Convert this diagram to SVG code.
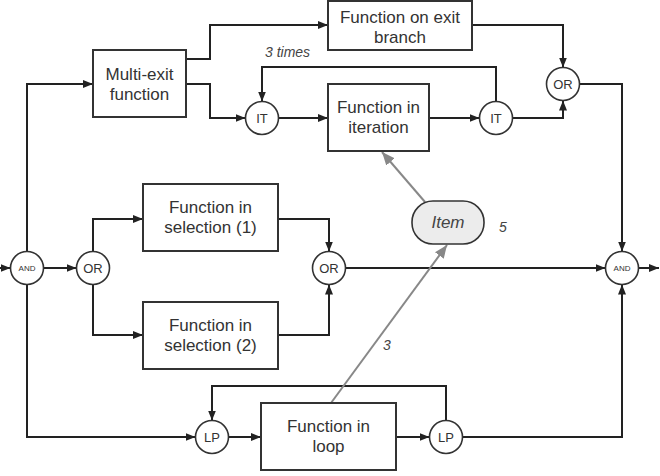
<svg xmlns="http://www.w3.org/2000/svg" width="660" height="476" viewBox="0 0 660 476">
<style>
.box{fill:#fff;stroke:#333;stroke-width:2}
.gate{fill:#fff;stroke:#333;stroke-width:1.6}
.t{font-family:"Liberation Sans",Arial,sans-serif;font-size:17px;fill:#333;text-anchor:middle}
.g{font-family:"Liberation Sans",Arial,sans-serif;font-size:13px;fill:#333;text-anchor:middle}
.s{font-family:"Liberation Sans",Arial,sans-serif;font-size:8px;fill:#333;text-anchor:middle}
.i{font-family:"Liberation Sans",Arial,sans-serif;font-style:italic;fill:#444}
.c{fill:none;stroke:#222;stroke-width:2}
.gc{fill:none;stroke:#888;stroke-width:2}
</style>
<defs>
<marker id="a" markerUnits="userSpaceOnUse" markerWidth="10" markerHeight="10" viewBox="0 0 10 10" refX="10" refY="5" orient="auto"><path d="M0,1 L10,5 L0,9 Z" fill="#222"/></marker>
<marker id="ga" markerUnits="userSpaceOnUse" markerWidth="13" markerHeight="12" viewBox="0 0 13 12" refX="13" refY="6" orient="auto"><path d="M0,0.5 L13,6 L0,11.5 Z" fill="#888"/></marker>
</defs>
<g id="connectors">
<path class="c" d="M27,251.5 V84 H93" marker-end="url(#a)"/>
<path class="c" d="M186,59 H210 V25 H328" marker-end="url(#a)"/>
<path class="c" d="M186,84 H210 V118 H245.5" marker-end="url(#a)"/>
<path class="c" d="M278.5,118 H328" marker-end="url(#a)"/>
<path class="c" d="M429,118 H479.5" marker-end="url(#a)"/>
<path class="c" d="M496,101.5 V67 H262 V101.5" marker-end="url(#a)"/>
<path class="c" d="M512.5,118 H563 V100.5" marker-end="url(#a)"/>
<path class="c" d="M472,25 H563 V67.5" marker-end="url(#a)"/>
<path class="c" d="M579.5,84 H622 V251.5" marker-end="url(#a)"/>
<path class="c" d="M0,268 H10.5" marker-end="url(#a)"/>
<path class="c" d="M43.5,268 H76.5" marker-end="url(#a)"/>
<path class="c" d="M93,251.5 V219 H143" marker-end="url(#a)"/>
<path class="c" d="M93,284.5 V335 H143" marker-end="url(#a)"/>
<path class="c" d="M278,219 H329 V251.5" marker-end="url(#a)"/>
<path class="c" d="M278,335 H329 V284.5" marker-end="url(#a)"/>
<path class="c" d="M345.5,268 H605.5" marker-end="url(#a)"/>
<path class="c" d="M638.5,268 H659" marker-end="url(#a)"/>
<path class="c" d="M27,284.5 V437 H195.5" marker-end="url(#a)"/>
<path class="c" d="M228.5,437 H261" marker-end="url(#a)"/>
<path class="c" d="M396,437 H429.5" marker-end="url(#a)"/>
<path class="c" d="M446,420.5 V386 H212 V420.5" marker-end="url(#a)"/>
<path class="c" d="M462.5,437 H622 V284.5" marker-end="url(#a)"/>
<path class="gc" d="M425,202 L382,152" marker-end="url(#ga)"/>
<path class="gc" d="M331,403 L447,245" marker-end="url(#ga)"/>
<text class="i" x="265" y="57" font-size="14">3 times</text>
<text class="i" x="383" y="350" font-size="14">3</text>
</g>
<g id="multi"><rect class="box" x="93" y="50" width="93" height="67"/><text class="t" x="139.5" y="80">Multi-exit</text><text class="t" x="139.5" y="100">function</text></g>
<g id="exitbranch"><rect class="box" x="328" y="1" width="144" height="49"/><text class="t" x="400" y="23">Function on exit</text><text class="t" x="400" y="43">branch</text></g>
<g id="iteration"><rect class="box" x="328" y="84" width="101" height="67"/><text class="t" x="378.5" y="113">Function in</text><text class="t" x="378.5" y="133">iteration</text></g>
<g id="sel1"><rect class="box" x="143" y="184" width="135" height="67"/><text class="t" x="210.5" y="213">Function in</text><text class="t" x="210.5" y="233">selection (1)</text></g>
<g id="sel2"><rect class="box" x="143" y="302" width="135" height="67"/><text class="t" x="210.5" y="331">Function in</text><text class="t" x="210.5" y="351">selection (2)</text></g>
<g id="loop"><rect class="box" x="261" y="403" width="135" height="67"/><text class="t" x="328.5" y="432">Function in</text><text class="t" x="328.5" y="452">loop</text></g>
<g id="item"><rect x="412" y="201" width="72" height="43" rx="21" ry="21" fill="#ececec" stroke="#333" stroke-width="1.6"/><text class="i" x="448" y="228" font-size="17" text-anchor="middle">Item</text><text class="i" x="499" y="232" font-size="14">5</text></g>
<g id="andL"><circle class="gate" cx="27" cy="268" r="16.5"/><text class="s" x="27" y="271">AND</text></g>
<g id="orL"><circle class="gate" cx="93" cy="268" r="16.5"/><text class="g" x="93" y="273">OR</text></g>
<g id="orM"><circle class="gate" cx="329" cy="268" r="16.5"/><text class="g" x="329" y="273">OR</text></g>
<g id="andR"><circle class="gate" cx="622" cy="268" r="16.5"/><text class="s" x="622" y="271">AND</text></g>
<g id="itL"><circle class="gate" cx="262" cy="118" r="16.5"/><text class="g" x="262" y="123">IT</text></g>
<g id="itR"><circle class="gate" cx="496" cy="118" r="16.5"/><text class="g" x="496" y="123">IT</text></g>
<g id="orT"><circle class="gate" cx="563" cy="84" r="16.5"/><text class="g" x="563" y="89">OR</text></g>
<g id="lpL"><circle class="gate" cx="212" cy="437" r="16.5"/><text class="g" x="212" y="442">LP</text></g>
<g id="lpR"><circle class="gate" cx="446" cy="437" r="16.5"/><text class="g" x="446" y="442">LP</text></g>
</svg>
